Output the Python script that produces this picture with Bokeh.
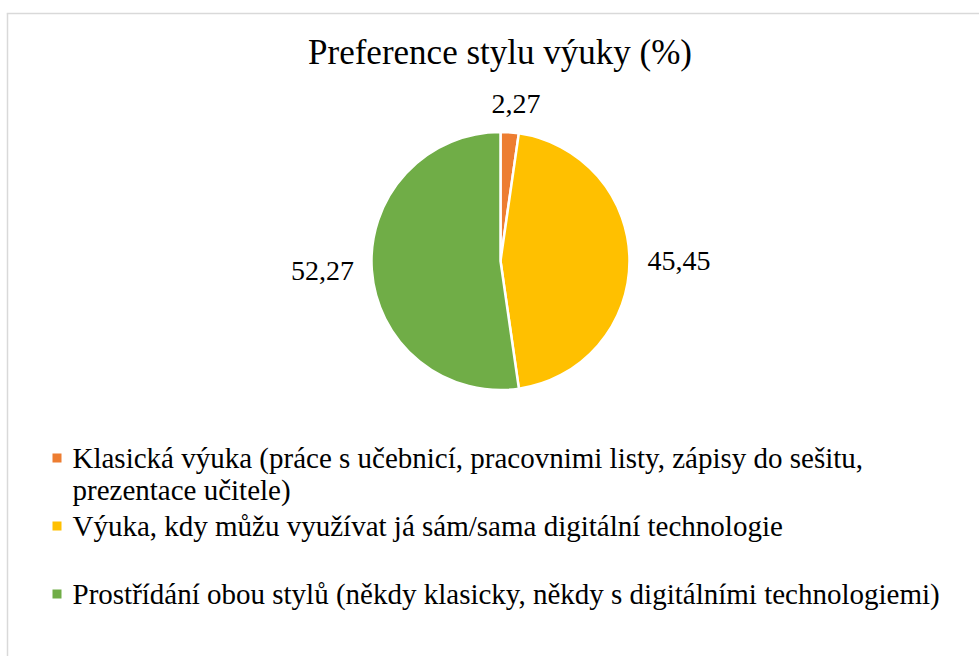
import numpy as np
from bokeh.plotting import figure
from bokeh.models import Range1d, ColumnDataSource
from bokeh.core.properties import value
from bokeh.embed import file_html
from bokeh.resources import INLINE

# ---- data ----
chart_title = "Preference stylu výuky (%)"
categories = [
    "Klasická výuka (práce s učebnicí, pracovnimi listy, zápisy do sešitu,\nprezentace učitele)",
    "Výuka, kdy můžu využívat já sám/sama digitální technologie",
    "Prostřídání obou stylů (někdy klasicky, někdy s digitálními technologiemi)",
]
values = [2.27, 45.45, 52.27]
value_labels = ["2,27", "45,45", "52,27"]
colors = ["#ED7D31", "#FFC000", "#70AD47"]

FONT = "Liberation Serif"
W, H = 979, 656

p = figure(width=W, height=H, x_range=Range1d(0, W), y_range=Range1d(0, H),
           x_axis_type=None, y_axis_type=None, toolbar_location=None,
           output_backend="svg", min_border=0)
p.grid.visible = False
p.outline_line_color = None
p.background_fill_color = "white"
p.border_fill_color = "white"

# chart-area border (decoration)
p.segment(x0=[7, 6.25], y0=[0, 643], x1=[7, W], y1=[643, 643],
          line_color="#d9d9d9", line_width=1.5)

# ---- pie ----
cx, cy, r = 500.0, 395.5, 129.0
vals = np.array(values, dtype=float)
frac = vals / vals.sum()
cum_end = np.cumsum(frac)
cum_start = cum_end - frac
start = np.pi / 2 - 2 * np.pi * cum_end
end = np.pi / 2 - 2 * np.pi * cum_start

src = ColumnDataSource(dict(start=start, end=end, color=colors))
p.wedge(x=cx, y=cy, radius=r, start_angle="start", end_angle="end",
        fill_color="color", line_color="white", line_width=2.5, source=src)

# data labels outside the pie (box edge ~18px from the rim)
mid = np.pi / 2 - 2 * np.pi * (cum_start + frac / 2)
lr = r + 18
half_h = 10.0
cosm, sinm = np.cos(mid), np.sin(mid)
lx = cx + lr * cosm + np.where(np.abs(cosm) <= 0.5, 5.0, 0.0)
ly = cy + lr * sinm + np.where(sinm > 0.5, half_h, np.where(sinm < -0.5, -half_h, 0.0))
aligns = ["left" if c > 0.5 else ("right" if c < -0.5 else "center") for c in cosm]
lsrc = ColumnDataSource(dict(x=lx, y=ly, t=value_labels, a=aligns))
p.text(x="x", y="y", text="t", text_align="a", text_baseline="middle", source=lsrc,
       text_font=value(FONT), text_font_size="28px", text_color="#000000")

# title
p.text(x=[499.5], y=[604], text=[chart_title], text_align="center",
       text_baseline="middle", text_font=value(FONT),
       text_font_size="35px", text_color="#000000")

# ---- legend ----
mx, tx = 56.5, 72.0
y0, step, line_h = 198.5, 68.0, 32.0
my = [y0 - step * i for i in range(len(categories))]
p.scatter(x=[mx] * len(categories), y=my, marker="square", size=9,
          fill_color=colors, line_color=None)
txs, tys, tts = [], [], []
for i, cat in enumerate(categories):
    for j, ln in enumerate(cat.split("\n")):
        txs.append(tx)
        tys.append(my[i] - line_h * j)
        tts.append(ln)
p.text(x=txs, y=tys, text=tts, text_align="left", text_baseline="middle",
       text_font=value(FONT), text_font_size="29px", text_color="#000000")

open("out.html", "w").write(file_html(p, INLINE))
